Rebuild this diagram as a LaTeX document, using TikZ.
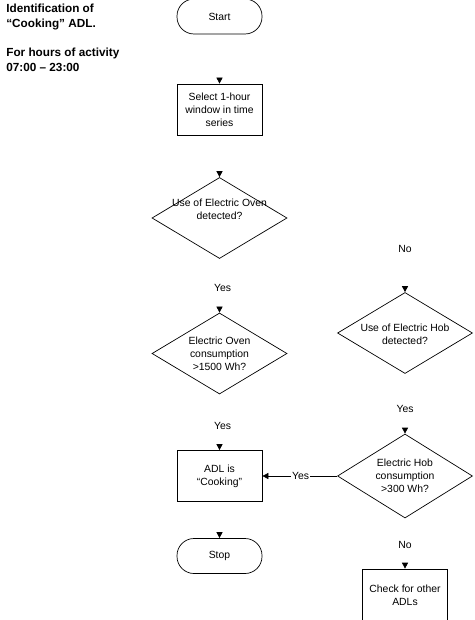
\documentclass[tikz,border=0pt]{standalone}
\usepackage{fontspec}
\setmainfont{Liberation Sans}
\usetikzlibrary{shapes.geometric,arrows.meta}
\begin{document}
\begin{tikzpicture}[x=1pt,y=-1pt,
  font=\fontsize{10.4}{13}\selectfont,
  line width=0.7pt,
  term/.style={draw, rectangle, rounded corners=17pt, minimum width=85pt, minimum height=35pt, inner sep=0pt, align=center},
  proc/.style={draw, rectangle, minimum width=85pt, minimum height=51pt, inner sep=0pt, align=center},
  dec/.style={draw, diamond, minimum width=135pt, minimum height=81pt, inner sep=0pt},
  dectext/.style={align=center, inner sep=0pt},
  flow/.style={-{Triangle[length=6pt,width=6pt]}, dash pattern=on 0pt off 10000pt},
  link/.style={-{Triangle[length=6pt,width=6pt]}},
  lbl/.style={inner sep=1pt, fill=white},
  heading/.style={font=\fontsize{11.75}{15}\selectfont\bfseries, align=left, inner sep=0pt, anchor=west}]
\useasboundingbox (0,0) rectangle (474,620);

\node[heading] (t1) at (6,16.5) {Identification of\\“Cooking” ADL.};
\node[heading] (t2) at (6,59.5) {For hours of activity\\07:00 – 23:00};

\node[term] (start) at (219.5,16.5) {Start};
\node[proc] (sel) at (219.5,109.5) {Select 1-hour\\window in time\\series};
\node[dec] (d1) at (219.5,218) {};
\node[dectext] (d1t) at (219.5,209) {Use of Electric Oven\\detected?};
\node[dec] (d2) at (219.5,353.5) {};
\node[dectext] (d2t) at (219.5,353.5) {Electric Oven\\consumption\\>1500 Wh?};
\node[dec] (h1) at (405,333) {};
\node[dectext] (h1t) at (405,334.5) {Use of Electric Hob\\detected?};
\node[dec, minimum height=84pt] (h2) at (405,476) {};
\node[dectext] (h2t) at (405,475.5) {Electric Hob\\consumption\\>300 Wh?};
\node[proc] (adl) at (219.5,476) {ADL is\\“Cooking”};
\node[term] (stop) at (219.5,556) {Stop};
\node[proc, minimum height=53pt] (chk) at (405,595.5) {Check for other\\ADLs};

\draw[flow] (start) -- (sel);
\draw[flow] (sel) -- (d1);
\draw[flow] (d1) -- node[pos=0.55, xshift=3pt] {Yes} (d2);
\draw[flow] (d1.east) -| node[pos=0.71] {No} (h1.north);
\draw[flow] (d2) -- node[pos=0.56, xshift=3pt] {Yes} (adl);
\draw[flow] (h1) -- node[pos=0.59] {Yes} (h2);
\draw[link] (h2) -- node[lbl, pos=0.49] {Yes} (adl);
\draw[flow] (adl) -- (stop);
\draw[flow] (h2) -- node[pos=0.52] {No} (chk);
\end{tikzpicture}
\end{document}
